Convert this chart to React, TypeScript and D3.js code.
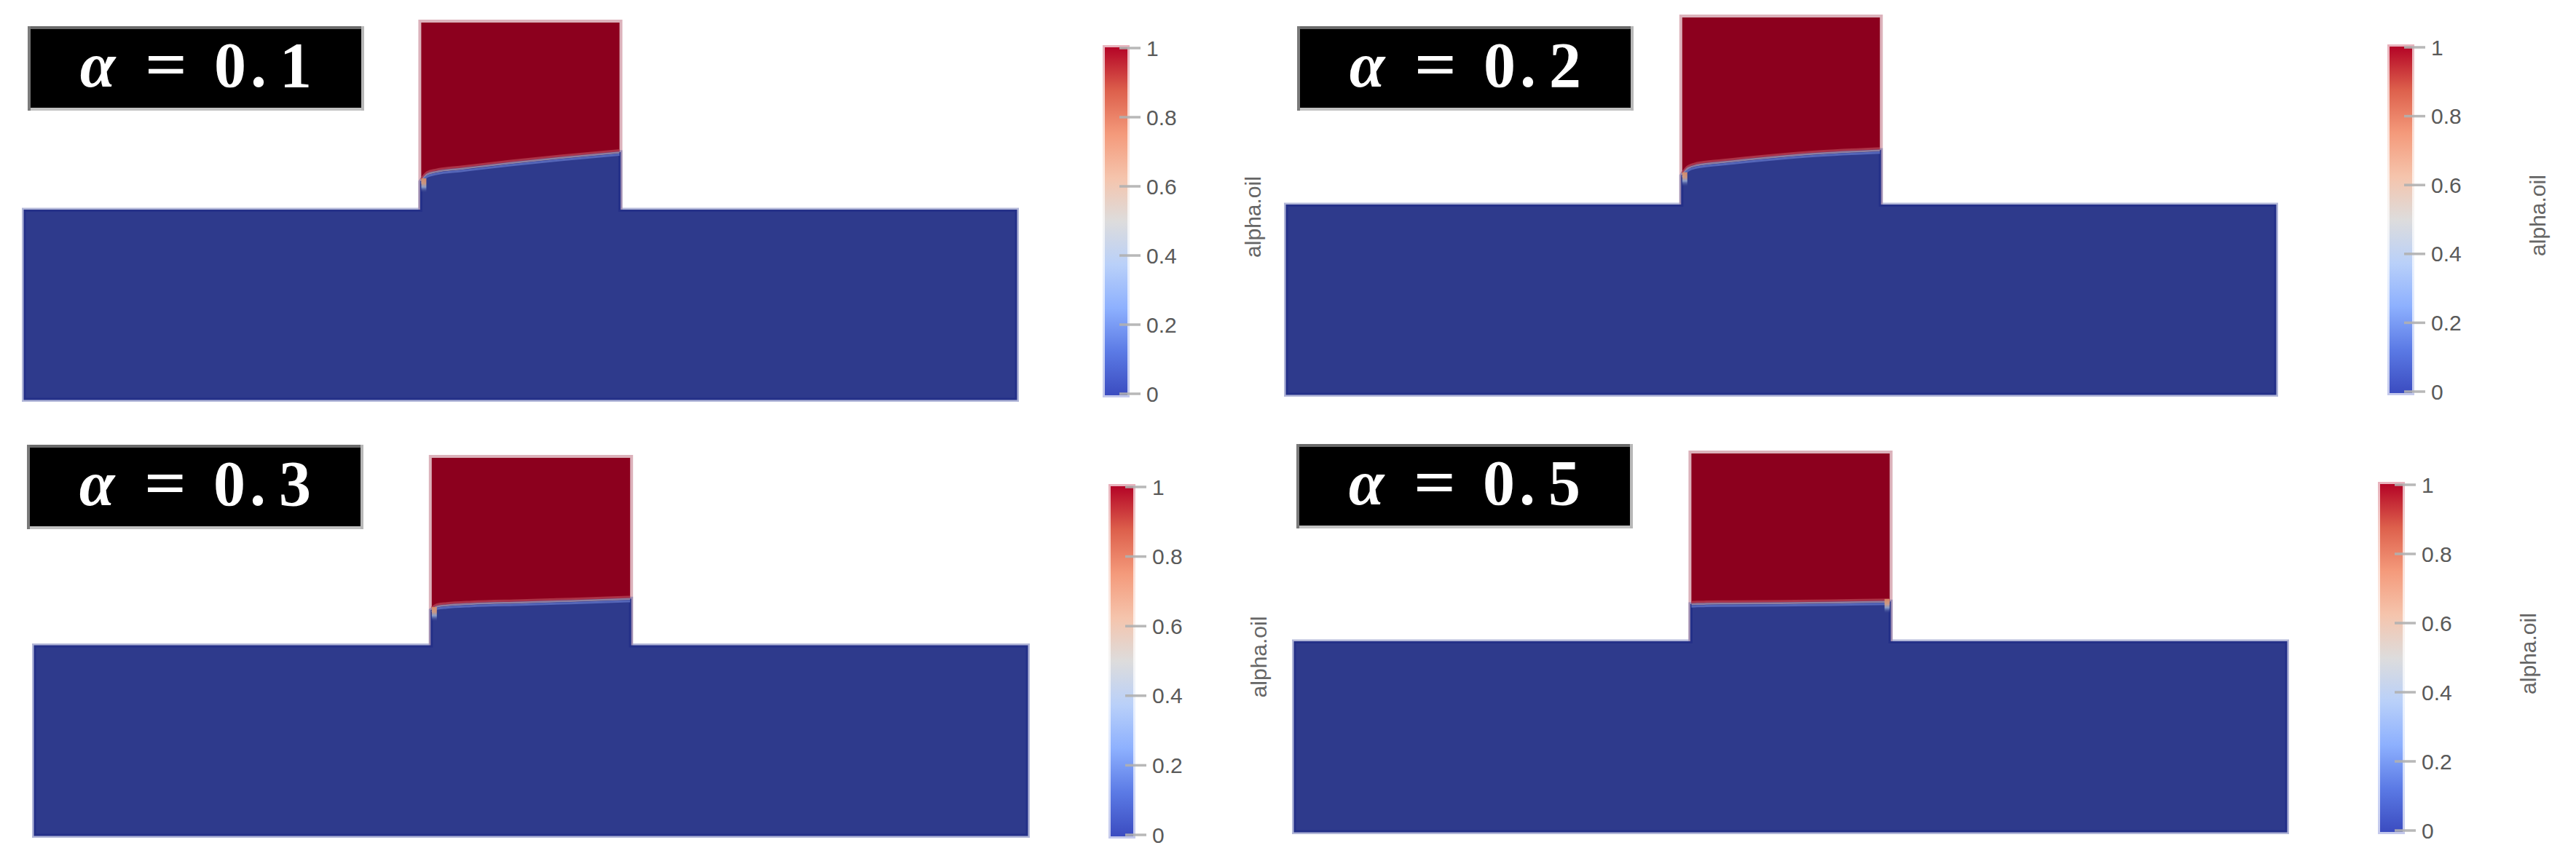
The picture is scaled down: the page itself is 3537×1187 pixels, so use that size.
import React from "react";
import * as d3 from "d3";

const W = 3537;
const H = 1187;

// ---- data ----
const alphaLabels = ["0.1", "0.2", "0.3", "0.5"];
const colorbarTicks = [0, 0.2, 0.4, 0.6, 0.8, 1];
const colorbarTickLabels = ["0", "0.2", "0.4", "0.6", "0.8", "1"];
const colorbarTitle = "alpha.oil";

// cool-to-warm colour map
const cmapPos = [0, 0.125, 0.25, 0.375, 0.5, 0.625, 0.75, 0.875, 1];
const cmapColors = ["#3b4cc0", "#5b7ae5", "#8db0fe", "#b9d0f9", "#dddcdc", "#f5c4ac", "#f49a7b", "#dd604c", "#b40426"];

// geometry of the T-shaped domain (domain units)
const channelX = [0, 100];
const channelY = [0, 19];
const columnX = [40, 60];
const columnY = [19, 38];

// oil/water interface height inside the vertical column
const interfaceX = [40, 40.6, 41.5, 44, 49, 54, 60];
const interfaceA01 = [21.9, 22.6, 22.85, 23.15, 23.74, 24.26, 24.8];
const interfaceA02 = [22.0, 22.7, 23.0, 23.3, 23.8, 24.2, 24.5];
const interfaceA03 = [22.6, 22.95, 23.05, 23.2, 23.35, 23.5, 23.7];
const interfaceA05 = [22.75, 22.78, 22.8, 22.83, 22.87, 22.92, 23.0];
const interfaces = [interfaceA01, interfaceA02, interfaceA03, interfaceA05];
const contactWall = ["left", "left", "left", "right"];

// ---- layout (pixels) ----
const layout = [
  { x0: 34, x1: 1395, yB: 548, yT: 31, bx: 38, by: 36, cx: 1517, c1: 66, c0: 541 },
  { x0: 1767, x1: 3124, yB: 541, yT: 24, bx: 1781, by: 36, cx: 3281, c1: 65, c0: 538 },
  { x0: 48, x1: 1410, yB: 1147, yT: 629, bx: 37, by: 611, cx: 1525, c1: 669, c0: 1147 },
  { x0: 1778, x1: 3139, yB: 1142, yT: 623, bx: 1780, by: 610, cx: 3268, c1: 666, c0: 1141 },
];

const BLUE = "#2e3a8c";
const RED = "#8c001e";
const BAR_W = 31;
const BOX_W = 462;
const BOX_H = 116;

function Panel({ i }: { i: number }) {
  const L = layout[i];
  const x = d3.scaleLinear().domain(channelX).range([L.x0, L.x1]);
  const y = d3.scaleLinear().domain([channelY[0], columnY[1]]).range([L.yB, L.yT]);
  const pts: [number, number][] = interfaceX.map((xv, k) => [xv, interfaces[i][k]]);
  const line = d3
    .line<[number, number]>()
    .x((d) => x(d[0]))
    .y((d) => y(d[1]))
    .curve(d3.curveMonotoneX);
  const curveStr = line(pts) as string;
  const bluePath =
    `M${x(channelX[0])},${y(channelY[0])}L${x(channelX[0])},${y(channelY[1])}L${x(columnX[0])},${y(channelY[1])}` +
    curveStr.replace(/^M/, "L") +
    `L${x(columnX[1])},${y(channelY[1])}L${x(channelX[1])},${y(channelY[1])}L${x(channelX[1])},${y(channelY[0])}Z`;

  const redX = x(columnX[0]);
  const redY = y(columnY[1]);
  const redW = x(columnX[1]) - x(columnX[0]);
  const redH = y(columnY[0]) - y(columnY[1]);

  // contact patch at wall
  const wallLeft = contactWall[i] === "left";
  const wallIdx = wallLeft ? 0 : pts.length - 1;
  const wy = y(pts[wallIdx][1]);
  const patchX = wallLeft ? x(columnX[0]) : x(columnX[1]) - 7;

  // colour bar
  const cb = d3.scaleLinear().domain([0, 1]).range([L.c0, L.c1]);
  const barRight = L.cx + BAR_W;

  const labelChars = alphaLabels[i].split("");
  const charX = [278, 317, 368];

  return (
    <g>
      {/* red oil column */}
      <rect x={redX} y={redY} width={redW} height={redH} fill="none" stroke={RED} strokeOpacity={0.3} strokeWidth={8} />
      <rect x={redX} y={redY} width={redW} height={redH} fill={RED} />
      {/* blue water region */}
      <path d={bluePath} fill="none" stroke="#5560a8" strokeOpacity={0.45} strokeWidth={8} strokeLinejoin="miter" />
      <path d={bluePath} fill={BLUE} />
      <path d={bluePath} fill="none" stroke="#243088" strokeWidth={3} />
      {/* interface band */}
      <path d={curveStr} fill="none" stroke="#b23a4c" strokeOpacity={0.85} strokeWidth={3} transform="translate(0,-4)" />
      <path d={curveStr} fill="none" stroke="#8f7f9f" strokeWidth={2.5} transform="translate(0,-1)" />
      <path d={curveStr} fill="none" stroke="#5566b8" strokeWidth={3} transform="translate(0,2)" />
      <rect x={patchX} y={wy - 5} width={7} height={20} fill="url(#contact)" />

      {/* label box */}
      <rect x={L.bx} y={L.by} width={BOX_W} height={BOX_H} fill="#000" />
      <rect x={L.bx} y={L.by} width={BOX_W} height={4} fill="#6a6a6a" />
      <rect x={L.bx} y={L.by + BOX_H - 4} width={BOX_W} height={4} fill="#c2c2c2" />
      <rect x={L.bx} y={L.by} width={4} height={BOX_H} fill="#7a7a7a" />
      <rect x={L.bx + BOX_W - 4} y={L.by} width={4} height={BOX_H} fill="#b8b8b8" />
      <text
        y={L.by + 83}
        fill="#fff"
        fontFamily="'Liberation Serif', 'DejaVu Serif', serif"
        fontWeight="bold"
        fontSize={88}
        textAnchor="middle"
      >
        <tspan x={L.bx + 96} fontStyle="italic">α</tspan>
        <tspan x={L.bx + 190} textLength={58} lengthAdjust="spacingAndGlyphs">=</tspan>
        {labelChars.map((c, k) => (
          <tspan key={k} x={L.bx + charX[k]}>{c}</tspan>
        ))}
      </text>

      {/* colour bar */}
      <rect x={L.cx} y={cb(1) - 1} width={BAR_W} height={cb(0) - cb(1) + 3} fill="none" stroke="url(#cw)" strokeOpacity={0.3} strokeWidth={6} />
      <rect x={L.cx} y={cb(1) - 1} width={BAR_W} height={cb(0) - cb(1) + 3} fill="url(#cw)" />
      {colorbarTicks.map((v, k) => (
        <g key={k}>
          <line x1={barRight - 11} x2={barRight + 18} y1={cb(v)} y2={cb(v)} stroke="#b0b0b0" strokeOpacity={0.9} strokeWidth={3.5} />
          <text
            x={barRight + 26}
            y={cb(v)}
            dominantBaseline="central"
            fontFamily="'Liberation Sans', Arial, sans-serif"
            fontSize={30}
            fill="#5a5a5a"
          >
            {colorbarTickLabels[k]}
          </text>
        </g>
      ))}
      <text
        transform={`translate(${barRight + 172},${(cb(0) + cb(1)) / 2 - 5.5}) rotate(-90)`}
        textAnchor="middle"
        dominantBaseline="central"
        fontFamily="'Liberation Sans', Arial, sans-serif"
        fontSize={30}
        fill="#666"
      >
        {colorbarTitle}
      </text>
    </g>
  );
}

export default function App() {
  return (
    <svg
      width={W}
      height={H}
      viewBox={`0 0 ${W} ${H}`}
      style={{ position: "absolute", left: 0, top: 0, display: "block", background: "#fff" }}
    >
      <defs>
        <linearGradient id="cw" x1="0" y1="1" x2="0" y2="0">
          {cmapPos.map((p, k) => (
            <stop key={k} offset={p} stopColor={cmapColors[k]} />
          ))}
        </linearGradient>
        <linearGradient id="contact" x1="0" y1="0" x2="0" y2="1">
          <stop offset="0" stopColor="#d98a66" stopOpacity={0.95} />
          <stop offset="0.35" stopColor="#d9a080" stopOpacity={0.9} />
          <stop offset="0.6" stopColor="#9fb4d8" stopOpacity={0.8} />
          <stop offset="1" stopColor="#2e3a8c" stopOpacity={0} />
        </linearGradient>
      </defs>
      <rect x={0} y={0} width={W} height={H} fill="#fff" />
      {layout.map((_, i) => (
        <Panel key={i} i={i} />
      ))}
    </svg>
  );
}
